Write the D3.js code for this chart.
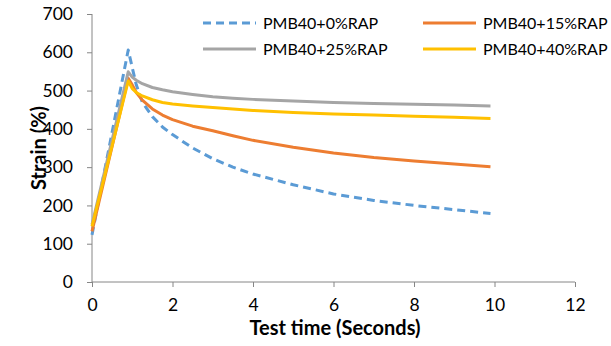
<!DOCTYPE html>
<html><head><meta charset="utf-8">
<script src="https://cdn.jsdelivr.net/npm/d3@7"></script>
<style>body{margin:0;background:#fff}svg{display:block}</style>
</head><body>
<svg id="c" width="611" height="346"></svg>
<script>
const times = [0, 0.9, 1.0, 1.1, 1.25, 1.5, 1.75, 2, 2.5, 3, 3.5, 4, 5, 6, 7, 8, 9, 9.9];
const seriesNames = ["PMB40+0%RAP", "PMB40+15%RAP", "PMB40+25%RAP", "PMB40+40%RAP"];
const rap0  = [123, 606, 560, 515, 470, 432, 405, 385, 350, 322, 300, 282, 254, 230, 213, 200, 189, 179];
const rap15 = [132, 532, 515, 495, 475, 452, 436, 424, 407, 395, 382, 370, 352, 337, 325, 316, 308, 301];
const rap25 = [150, 549, 535, 527, 518, 508, 502, 497, 490, 484, 480, 477, 473, 469, 466, 464, 462, 460];
const rap40 = [145, 525, 505, 495, 486, 476, 469, 465, 460, 456, 452, 448, 443, 439, 436, 433, 430, 427];
const xTicks = [0, 2, 4, 6, 8, 10, 12];
const yTicks = [0, 100, 200, 300, 400, 500, 600, 700];
const colors = ["#5B9BD5", "#ED7D31", "#A5A5A5", "#FFC000"];

const svg = d3.select("#c");
const font = "Lato, 'Open Sans', sans-serif";
const x = d3.scaleLinear().domain([0, 12]).range([92, 575]);
const y = d3.scaleLinear().domain([0, 700]).range([282, 14]);

// axes
const xAxis = svg.append("g").attr("transform", `translate(0,${y(0)})`)
  .call(d3.axisBottom(x).tickValues(xTicks).tickSize(5).tickPadding(12));
const yAxis = svg.append("g").attr("transform", `translate(${x(0)},0)`)
  .call(d3.axisLeft(y).tickValues(yTicks).tickSize(5).tickPadding(14));
[xAxis, yAxis].forEach(a => {
  a.selectAll("path,line").attr("stroke", "#868686").attr("stroke-width", 1);
  a.selectAll("text").attr("font-family", font).attr("font-size", 17.5).attr("fill", "#000");
});
yAxis.select(".domain").attr("d", `M-0,${y(700)}V${y(0)}`);
xAxis.select(".domain").attr("d", `M${x(0)},0H${x(12)}`);

const all = [rap0, rap15, rap25, rap40];
const line = d3.line().x((d, i) => x(times[i])).y(d => y(d));
all.forEach((vals, k) => {
  svg.append("path").datum(vals).attr("d", line)
    .attr("fill", "none").attr("stroke", colors[k]).attr("stroke-width", 3)
    .attr("stroke-linejoin", "round")
    .attr("stroke-dasharray", k === 0 ? "8,5" : null);
});

// legend
const legPos = [[203, 23], [423, 23], [203, 49], [423, 49]];
seriesNames.forEach((n, k) => {
  const [lx, ly] = legPos[k];
  svg.append("line").attr("x1", lx).attr("x2", lx + 53).attr("y1", ly).attr("y2", ly)
    .attr("stroke", colors[k]).attr("stroke-width", 3)
    .attr("stroke-dasharray", k === 0 ? "8,5" : null);
  svg.append("text").attr("x", lx + 60).attr("y", ly + 6).text(n)
    .attr("font-family", font).attr("font-size", 16).attr("fill", "#000");
});

// axis titles
svg.append("text").attr("x", 335).attr("y", 335).attr("text-anchor", "middle")
  .attr("font-family", font).attr("font-size", 20).attr("font-weight", "bold").text("Test time (Seconds)");
svg.append("text").attr("transform", "translate(46,148) rotate(-90)").attr("text-anchor", "middle")
  .attr("font-family", font).attr("font-size", 20).attr("font-weight", "bold").text("Strain (%)");
</script>
</body></html>
